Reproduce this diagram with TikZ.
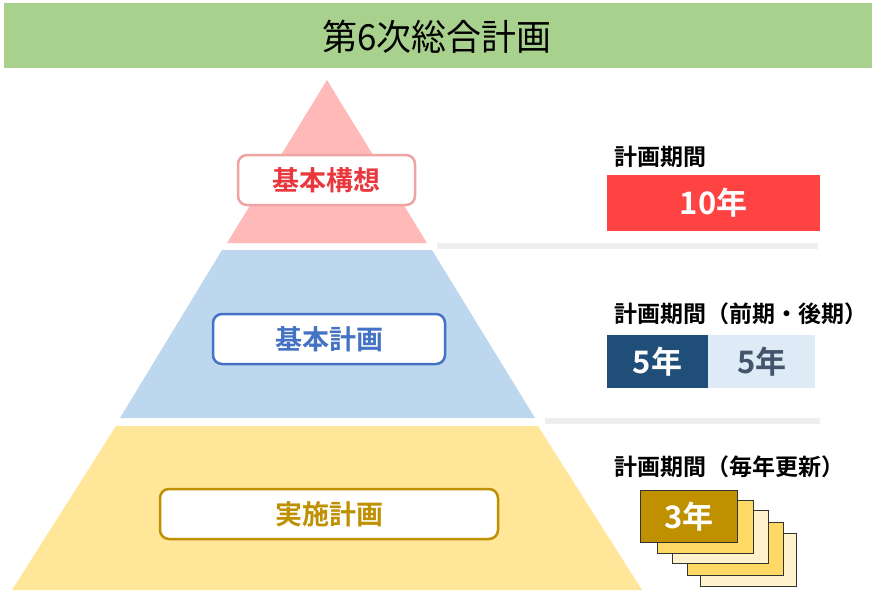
\documentclass[tikz,border=0pt]{standalone}
\usepackage{fontspec}
\setmainfont{Noto Sans CJK JP}[BoldFont={Noto Sans CJK JP Bold}]
\usetikzlibrary{positioning}

\definecolor{titlegreen}{HTML}{A9D18E}
\definecolor{pinktop}{HTML}{FFB9B9}
\definecolor{pinkline}{HTML}{EFA3A3}
\definecolor{redtext}{HTML}{E8383D}
\definecolor{redbox}{HTML}{FF4343}
\definecolor{bluemid}{HTML}{BDD7EE}
\definecolor{blueline}{HTML}{4472C4}
\definecolor{navybox}{HTML}{1F4E79}
\definecolor{palebox}{HTML}{DEEBF7}
\definecolor{slatetext}{HTML}{44546A}
\definecolor{yellowlow}{HTML}{FFE699}
\definecolor{goldline}{HTML}{BF9000}
\definecolor{cardmid}{HTML}{FFD966}
\definecolor{cardpale}{HTML}{FFF2CC}
\definecolor{rulegray}{HTML}{EEEEEE}

\tikzset{
  stage/.style={draw, rounded corners=9pt, line width=2.5pt, fill=white,
    minimum height=50pt, inner sep=0pt, font=\bfseries\fontsize{27}{27}\selectfont},
  term/.style={anchor=west, inner sep=0pt, font=\bfseries\fontsize{23}{23}\selectfont},
  period/.style={inner sep=0pt, font=\bfseries\fontsize{31}{31}\selectfont},
  card/.style={draw=black!80, line width=0.9pt, minimum width=96pt, minimum height=53pt,
    inner sep=0pt, anchor=north west},
}

\begin{document}
\begin{tikzpicture}[x=1pt,y=-1pt]
\useasboundingbox (0,0) rectangle (892,600);
% title
\fill[titlegreen] (4,3) rectangle (872,68);
\node[font=\fontsize{36}{36}\selectfont, xscale=0.97] (title) at (437,37) {第6次総合計画};
% pyramid
\fill[pinktop] (327,80) -- (427,243) -- (227,243) -- cycle;
\fill[bluemid] (222,250) -- (432,250) -- (535,418) -- (120,418) -- cycle;
\fill[yellowlow] (116,426) -- (538,426) -- (642,590) -- (12,590) -- cycle;
% separators
\fill[rulegray] (437,243) rectangle (818,249);
\fill[rulegray] (545,418) rectangle (820,424);
% stage labels
\node[stage, draw=pinkline, text=redtext, minimum width=177pt] (koso) at (326.5,180) {基本構想};
\node[stage, draw=blueline, text=blueline, minimum width=232pt] (kihon) at (329,339) {基本計画};
\node[stage, draw=goldline, text=goldline, minimum width=338pt] (jisshi) at (329,514) {実施計画};
% periods
\node[term] (termA) at (614,157) {計画期間};
\node[period, fill=redbox, text=white, minimum width=213pt, minimum height=56pt] (tenyr) at (713.5,203) {10年};
\node[term] (termB) at (614,314) {計画期間（前期・後期）};
\node[period, fill=navybox, text=white, minimum width=101pt, minimum height=53pt] (fiveA) at (657.5,361.5) {5年};
\node[period, fill=palebox, text=slatetext, minimum width=107pt, minimum height=53pt, right=0pt of fiveA] (fiveB) {5年};
\node[term] (termC) at (614,467) {計画期間（毎年更新）};
% stacked cards
\node[card, fill=cardpale] (cardE) at (700,533) {};
\node[card, fill=cardmid] (cardD) at (687,522) {};
\node[card, fill=cardpale] (cardC) at (672,510) {};
\node[card, fill=cardmid] (cardB) at (657,500) {};
\node[card, fill=goldline, text=white, period, minimum width=97pt, minimum height=52pt, anchor=north west] (cardA) at (640,490) {3年};
\end{tikzpicture}
\end{document}
